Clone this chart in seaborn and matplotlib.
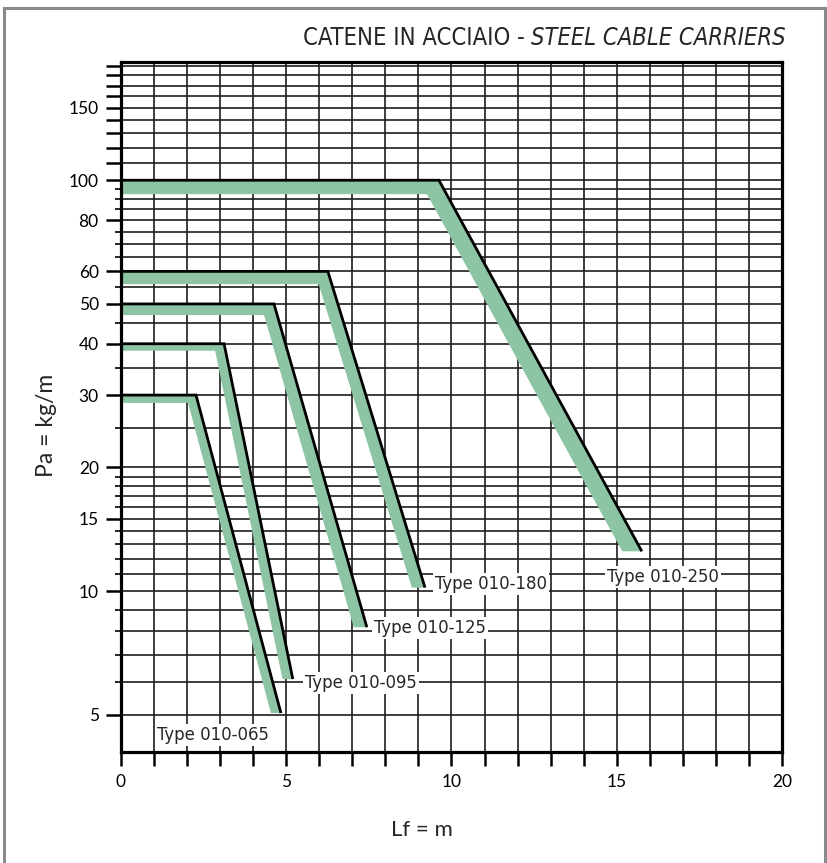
import matplotlib
matplotlib.use("Agg")
import matplotlib.pyplot as plt
import numpy as np
import pandas as pd
import seaborn as sns
from matplotlib.patches import Rectangle
from matplotlib.ticker import FixedFormatter, FixedLocator


# chart values
TYPES = ["Type 010-065", "Type 010-095", "Type 010-125", "Type 010-180", "Type 010-250"]
LOAD_MAX = [30, 40, 50, 60, 100]                 # Pa plateau, kg/m
LF_KNEE = [2.27, 3.12, 4.63, 6.26, 9.62]         # Lf where the curve starts to fall, m
LF_END = [4.84, 5.20, 7.44, 9.20, 15.76]         # last Lf of each curve, m
LOAD_END = [5.05, 6.11, 8.17, 10.2, 12.5]        # Pa at the last Lf, kg/m

Y_LABELED = [5, 10, 15, 20, 30, 40, 50, 60, 80, 100, 150]
Y_GRID = list(range(5, 20)) + list(range(20, 100, 5)) + list(range(100, 200, 10))
X_TICKS = list(range(0, 21))
X_LABELED = [0, 5, 10, 15, 20]

# label anchors (left edge, centre) and green band offsets
LABEL_POS = [(1.09, 4.47), (5.57, 5.97), (7.65, 8.13), (9.50, 10.4), (14.70, 10.8)]
BAND_DX = [0.24, 0.27, 0.30, 0.28, 0.36]         # m
BAND_DY = [0.019, 0.017, 0.027, 0.031, 0.034]    # decades

GREEN = "#8cc4a4"
GRID = "#1e1e1e"
NARROW = ["Liberation Sans Narrow", "DejaVu Sans"]


def main() -> None:
    sns.set_theme(style="white")
    plt.rcParams["font.family"] = ["Lato", "DejaVu Sans"]

    rows = []
    for name, lvl, kn, xe, ye in zip(TYPES, LOAD_MAX, LF_KNEE, LF_END, LOAD_END):
        rows += [
            {"type": name, "Lf": 0.0, "Pa": lvl},
            {"type": name, "Lf": kn, "Pa": lvl},
            {"type": name, "Lf": xe, "Pa": ye},
        ]
    df = pd.DataFrame(rows)

    fig = plt.figure(figsize=(8.28, 8.63), dpi=100)
    ax = fig.add_axes([0.1461, 0.1286, 0.7983, 0.7996])
    ax.set_yscale("log")
    ax.set_xlim(0, 20)
    ax.set_ylim(4.06, 194)

    # green bands: the curve shifted down/left, cut flat at the end
    for lvl, kn, xe, ye, dx, dy in zip(LOAD_MAX, LF_KNEE, LF_END, LOAD_END, BAND_DX, BAND_DY):
        f = 10 ** (-dy)
        t = 1 + dy / (np.log10(ye) - np.log10(lvl))
        x_cut = kn - dx + t * (xe - kn)
        xs = [-1, kn, xe, x_cut, kn - dx, -1]
        ys = [lvl, lvl, ye, ye, lvl * f, lvl * f]
        ax.fill(xs, ys, color=GREEN, lw=0, zorder=2)

    sns.lineplot(
        data=df, x="Lf", y="Pa", units="type", estimator=None, sort=False,
        color="black", linewidth=2.0, ax=ax, zorder=3, legend=False,
        solid_joinstyle="miter", solid_capstyle="butt",
    )

    for name, (lx, ly) in zip(TYPES, LABEL_POS):
        ax.text(lx, ly, name, ha="left", va="center", fontsize=13.2, family=NARROW,
                stretch="condensed", zorder=4,
                bbox=dict(facecolor="white", edgecolor="none", pad=1.5))

    # ticks and grid
    y_major = Y_LABELED + [v for v in range(110, 200, 10) if v not in Y_LABELED]
    y_minor = [v for v in Y_GRID if v not in y_major]
    ax.yaxis.set_major_locator(FixedLocator(y_major))
    ax.yaxis.set_major_formatter(FixedFormatter([str(v) if v in Y_LABELED else "" for v in y_major]))
    ax.yaxis.set_minor_locator(FixedLocator(y_minor))
    ax.yaxis.set_minor_formatter(FixedFormatter([""] * len(y_minor)))
    ax.xaxis.set_major_locator(FixedLocator(X_TICKS))
    ax.xaxis.set_major_formatter(FixedFormatter([str(v) if v in X_LABELED else "" for v in X_TICKS]))

    ax.tick_params(axis="y", which="major", direction="out", length=11, width=1.8,
                   pad=5, labelsize=12.5, left=True, colors="black")
    ax.tick_params(axis="y", which="minor", direction="out", length=4, width=1.4, left=True)
    ax.tick_params(axis="x", which="major", direction="out", length=10, width=1.8,
                   pad=6, labelsize=12.5, bottom=True, colors="black")

    ax.set_axisbelow(True)
    ax.grid(True, which="both", color=GRID, linewidth=1.2)
    for side in ["left", "right", "top", "bottom"]:
        ax.spines[side].set_visible(True)
        ax.spines[side].set_color("black")
        ax.spines[side].set_linewidth(2.3)

    ax.set_xlabel("Lf = m", fontsize=16)
    ax.set_ylabel("Pa = kg/m", fontsize=16.5)
    ax.xaxis.set_label_coords(0.455, -0.113)
    ax.xaxis.label.set_va("center")
    ax.yaxis.set_label_coords(-0.112, 0.474)
    ax.yaxis.label.set_va("center")

    # title: upright part followed by italic part, right aligned
    t_it = fig.text(0.949, 0.956, "STEEL CABLE CARRIERS", ha="right", va="center",
                    fontsize=17, style="italic", family=NARROW, stretch="condensed")
    ax.annotate("CATENE IN ACCIAIO - ", xy=(0, 0.5), xycoords=t_it, ha="right",
                va="center", fontsize=17, family=NARROW, stretch="condensed",
                annotation_clip=False)

    fig.patches.append(Rectangle((4 / 828, -0.02), 821 / 828, 1.02 - 8 / 863,
                                 transform=fig.transFigure, fill=False,
                                 edgecolor="#8a8a8a", linewidth=2.2))

    fig.savefig("out.png", dpi=100)
    plt.close(fig)


if __name__ == "__main__":
    main()
